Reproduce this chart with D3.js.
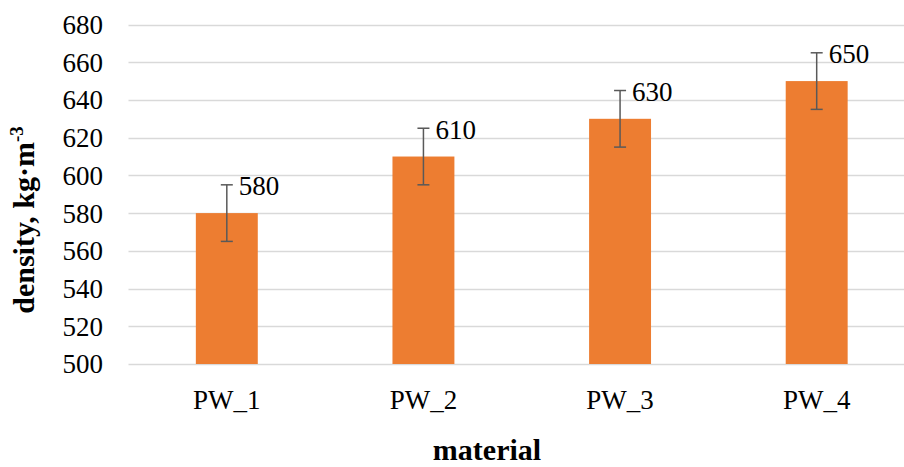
<!DOCTYPE html>
<html><head><meta charset="utf-8">
<script src="https://cdn.jsdelivr.net/npm/d3@7"></script>
<style>body{margin:0;background:#fff}svg{display:block}
svg text{font-family:"Liberation Serif","Times New Roman","DejaVu Serif",serif}</style>
</head><body>
<svg id="c" width="904" height="467"></svg>
<script>
const categories = ["PW_1","PW_2","PW_3","PW_4"];
const values = [580, 610, 630, 650];
const errors = [15, 15, 15, 15];
const yTicks = [500,520,540,560,580,600,620,640,660,680];

const svg = d3.select("#c");
const pLeft = 128.5, pRight = 915, pTop = 24.5, pBottom = 364;
const x = d3.scaleBand().domain(categories).range([pLeft, pRight]).paddingInner(0.685).paddingOuter(0.3425);
const y = d3.scaleLinear().domain([500, 680]).range([pBottom, pTop]);

svg.append("g").selectAll("line").data(yTicks).join("line")
  .attr("x1", pLeft).attr("x2", pRight)
  .attr("y1", d => Math.round(y(d)) + 0.5).attr("y2", d => Math.round(y(d)) + 0.5)
  .attr("stroke", "#d9d9d9").attr("stroke-width", 1.3);

svg.append("g").selectAll("text").data(yTicks).join("text")
  .attr("x", 103).attr("y", d => y(d)).attr("dy", "0.35em")
  .attr("text-anchor", "end").attr("font-size", 27)
  .attr("fill", "#000").text(d => d);

svg.append("g").selectAll("rect").data(values).join("rect")
  .attr("x", (d,i) => x(categories[i])).attr("width", x.bandwidth())
  .attr("y", d => y(d)).attr("height", d => y(500) - y(d))
  .attr("fill", "#ed7d31");

const eb = svg.append("g").attr("stroke", "#595959").attr("stroke-width", 1.5);
values.forEach((v,i) => {
  const cx = x(categories[i]) + x.bandwidth()/2;
  eb.append("line").attr("x1", cx).attr("x2", cx).attr("y1", y(v+errors[i])).attr("y2", y(v-errors[i]));
  eb.append("line").attr("x1", cx-6).attr("x2", cx+6).attr("y1", y(v+errors[i])).attr("y2", y(v+errors[i]));
  eb.append("line").attr("x1", cx-6).attr("x2", cx+6).attr("y1", y(v-errors[i])).attr("y2", y(v-errors[i]));
});

svg.append("g").selectAll("text").data(values).join("text")
  .attr("x", (d,i) => x(categories[i]) + x.bandwidth()/2 + 12)
  .attr("y", (d,i) => y(d+errors[i]) + 10.5)
  .attr("font-size", 27).attr("fill", "#000")
  .text(d => d);

svg.append("g").selectAll("text").data(categories).join("text")
  .attr("x", d => x(d) + x.bandwidth()/2).attr("y", 409)
  .attr("text-anchor", "middle").attr("font-size", 27)
  .attr("fill", "#000").text(d => d);

svg.append("text").attr("x", 487).attr("y", 460).attr("text-anchor", "middle")
  .attr("font-size", 30).attr("font-weight", "bold")
  .text("material");

const yt = svg.append("text").attr("transform", "translate(34,220) rotate(-90)")
  .attr("text-anchor", "middle").attr("font-size", 30)
  .attr("font-weight", "bold");
yt.append("tspan").text("density, kg·m");
yt.append("tspan").attr("dy", -11).attr("font-size", 19).text("-3");
</script>
</body></html>
